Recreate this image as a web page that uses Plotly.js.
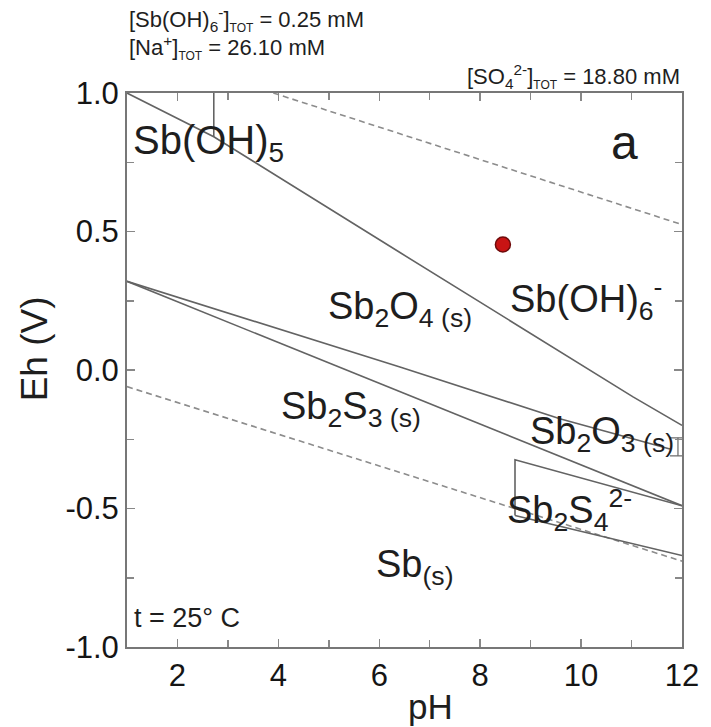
<!DOCTYPE html>
<html>
<head>
<meta charset="utf-8">
<script src="https://cdn.plot.ly/plotly-3.0.1.min.js"></script>
<style>html,body{margin:0;padding:0;background:#fff;}#chart{width:711px;height:727px;}</style>
</head>
<body>
<div id="chart"></div>
<script>
// ---- data ----
const phTickVals = [2, 4, 6, 8, 10, 12];
const phTickText = ['2', '4', '6', '8', '10', '12'];
const ehTickVals = [-1, -0.5, 0, 0.5, 1];
const ehTickText = ['-1.0', '-0.5', '0.0', '0.5', '1.0'];

// Sb(OH)5 / Sb(OH)6- vertical boundary
const sbOH5_pH = [2.72, 2.72];
const sbOH5_Eh = [1.0, 0.842];
// Sb(V) aqueous / Sb2O4 boundary
const sb2o4Up_pH = [1.0, 2.72, 6.41, 11.03, 12.0];
const sb2o4Up_Eh = [1.0, 0.842, 0.424, -0.097, -0.2];
// Sb2O4 / Sb2O3 boundary
const sb2o3Up_pH = [1.0, 6.41, 9.58, 11.76];
const sb2o3Up_Eh = [0.32, 0.011, -0.176, -0.285];
// Sb2O3 / Sb2S3 boundary
const sb2s3Up_pH = [1.0, 12.0];
const sb2s3Up_Eh = [0.32, -0.49];
// Sb2S4(2-) field outline
const sb2s4Top_pH = [8.69, 8.69, 12.0];
const sb2s4Top_Eh = [-0.525, -0.324, -0.49];
const sb2s4Bot_pH = [8.69, 12.0];
const sb2s4Bot_Eh = [-0.525, -0.67];
// small Sb2O3(s) bracket at right edge
const sb2o3Box_pH = [11.76, 12.0, null, 11.92, 11.92, null, 11.76, 12.0];
const sb2o3Box_Eh = [-0.245, -0.245, null, -0.245, -0.31, null, -0.31, -0.31];
// water stability limits (dashed)
const o2_pH = [3.9, 12.0];
const o2_Eh = [1.0, 0.525];
const h2_pH = [1.0, 12.0];
const h2_Eh = [-0.06, -0.69];
// measured sample
const sample_pH = [8.45];
const sample_Eh = [0.453];

// ---- drawing ----
const solid = {color: '#636363', width: 1.6};
const dashed = {color: '#8c8c8c', width: 1.6, dash: '6px,4px'};
function ln(x, y, line) {
  return {x: x, y: y, type: 'scatter', mode: 'lines', line: line, hoverinfo: 'skip', showlegend: false};
}
const traces = [
  ln(o2_pH, o2_Eh, dashed),
  ln(h2_pH, h2_Eh, dashed),
  ln(sbOH5_pH, sbOH5_Eh, solid),
  ln(sb2o4Up_pH, sb2o4Up_Eh, solid),
  ln(sb2o3Up_pH, sb2o3Up_Eh, solid),
  ln(sb2s3Up_pH, sb2s3Up_Eh, solid),
  ln(sb2s4Top_pH, sb2s4Top_Eh, solid),
  ln(sb2s4Bot_pH, sb2s4Bot_Eh, solid),
  ln(sb2o3Box_pH, sb2o3Box_Eh, {color: '#666666', width: 1.2}),
  {x: sample_pH, y: sample_Eh, type: 'scatter', mode: 'markers', showlegend: false,
   marker: {size: 15, color: '#c81414', line: {color: '#6e0a0a', width: 1.5}}}
];

const F = 'Liberation Sans, Arial, sans-serif';
const txt = '#1e1e1e';
function lab(x, y, text, size, extra) {
  return Object.assign({x: x, y: y, xref: 'x', yref: 'y', text: text, showarrow: false,
    xanchor: 'left', yanchor: 'middle', font: {family: F, size: size, color: txt}}, extra || {});
}
function headerNote(x, y, text, anchor) {
  return {x: x, y: y, xref: 'paper', yref: 'paper', text: text, showarrow: false,
    xanchor: anchor, yanchor: 'middle', font: {family: F, size: 22, color: txt}};
}
const tot = '<sub><span style="font-size:12px">TOT</span></sub>';

const annotations = [
  lab(1.08, 0.82, 'Sb(OH)<sub>5</sub>', 40),
  lab(10.55, 0.82, 'a', 48),
  lab(4.95, 0.22, 'Sb<sub>2</sub>O<sub>4 (s)</sub>', 38),
  lab(8.55, 0.255, 'Sb(OH)<sub>6</sub><sup>-</sup>', 38),
  lab(4.02, -0.14, 'Sb<sub>2</sub>S<sub>3 (s)</sub>', 38),
  lab(8.95, -0.23, 'Sb<sub>2</sub>O<sub>3 (s)</sub>', 38),
  lab(8.5, -0.505, 'Sb<sub>2</sub>S<sub>4</sub><sup>2-</sup>', 38),
  lab(5.9, -0.71, 'Sb<sub>(s)</sub>', 38),
  lab(1.1, -0.895, 't = 25° C', 27),
  headerNote(0.0, 1.132, '[Sb(OH)<sub>6</sub><sup>-</sup>]' + tot + ' = 0.25 mM', 'left'),
  headerNote(0.0, 1.083, '[Na<sup>+</sup>]' + tot + ' = 26.10 mM', 'left'),
  headerNote(1.0, 1.030, '[SO<sub>4</sub><sup>2-</sup>]' + tot + ' = 18.80 mM', 'right'),
  {x: 0.546, y: -0.1065, xref: 'paper', yref: 'paper', text: 'pH', showarrow: false,
   xanchor: 'center', yanchor: 'middle', font: {family: F, size: 35, color: txt}},
  {x: -0.165, y: 0.538, xref: 'paper', yref: 'paper', text: 'Eh (V)', showarrow: false, textangle: -90,
   xanchor: 'center', yanchor: 'middle', font: {family: F, size: 37, color: txt}}
];

const axCommon = {
  showgrid: false, zeroline: false, showline: true, linecolor: '#777777', linewidth: 2,
  mirror: 'ticks', ticks: 'inside', ticklen: 8, tickwidth: 1.5, tickcolor: '#888888',
  tickfont: {family: F, size: 31, color: '#151515'}
};

const layout = {
  width: 711, height: 727,
  margin: {l: 127, r: 29, t: 93, b: 80, pad: 0},
  paper_bgcolor: '#ffffff', plot_bgcolor: '#ffffff',
  showlegend: false,
  xaxis: Object.assign({}, axCommon, {
    range: [1, 12], tickmode: 'array', tickvals: phTickVals, ticktext: phTickText,
    minor: {tickmode: 'linear', tick0: 1, dtick: 1, ticks: 'inside', ticklen: 7, tickcolor: '#888888', showgrid: false}
  }),
  yaxis: Object.assign({}, axCommon, {
    range: [-1, 1], tickmode: 'array', tickvals: ehTickVals, ticktext: ehTickText,
    minor: {tickmode: 'linear', tick0: -1, dtick: 0.25, ticks: 'inside', ticklen: 7, tickcolor: '#888888', showgrid: false}
  }),
  annotations: annotations
};

Plotly.newPlot('chart', traces, layout, {staticPlot: true, displayModeBar: false});
</script>
</body>
</html>
